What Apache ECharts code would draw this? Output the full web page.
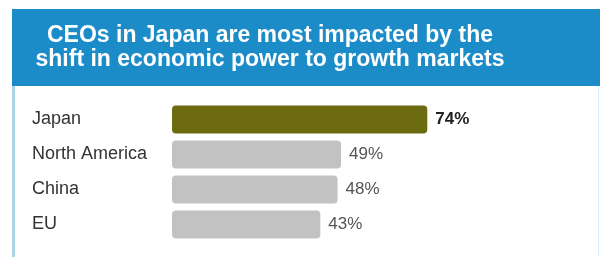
<!DOCTYPE html>
<html lang="en">
<head>
    <meta charset="UTF-8">
    <title>CEOs in Japan</title>
    <script type="text/javascript" src="https://cdn.jsdelivr.net/npm/echarts@6/dist/echarts.min.js"></script>
    <style>
        html, body { margin: 0; padding: 0; background: #fff; }
    </style>
</head>
<body>
<div id="main" style="width: 600px;height:257px;"></div>

<script>
    // data
    var regions = ['Japan', 'North America', 'China', 'EU'];
    var shares = [74, 49, 48, 43];
    var barColors = ['#6c6b10', '#c2c2c2', '#c2c2c2', '#c2c2c2'];

    var myChart = echarts.init(document.getElementById('main'));

    myChart.setOption({
        backgroundColor: '#ffffff',
        animation: false,
        title: {
            text: 'CEOs in Japan are most impacted by the\nshift in economic power to growth markets',
            left: 265,
            top: 19,
            textAlign: 'center',
            textStyle: {
                color: '#ffffff',
                fontFamily: 'Liberation Sans, Arial, sans-serif',
                fontWeight: 'bold',
                fontSize: 23,
                lineHeight: 24
            }
        },
        graphic: [
            // blue header band
            { type: 'rect', z: -1, shape: { x: 12, y: 9, width: 588, height: 77 }, style: { fill: '#1b8cc7' } },
            // frame lines
            { type: 'rect', z: -1, shape: { x: 12, y: 86, width: 3, height: 171 }, style: { fill: '#a9d4e8' } },
            { type: 'rect', z: -1, shape: { x: 598, y: 86, width: 1, height: 171 }, style: { fill: '#d8edf6' } }
        ],
        grid: {
            left: 172,
            right: 83,
            top: 102,
            bottom: 15
        },
        xAxis: {
            type: 'value',
            min: 0,
            max: 100,
            show: false
        },
        yAxis: {
            type: 'category',
            data: regions,
            inverse: true,
            axisLine: { show: false },
            axisTick: { show: false },
            axisLabel: {
                align: 'left',
                margin: 140,
                color: '#333333',
                fontFamily: 'Liberation Sans, Arial, sans-serif',
                fontSize: 18
            }
        },
        series: [{
            type: 'bar',
            barWidth: 28,
            data: shares.map(function (v, i) {
                return {
                    value: v,
                    itemStyle: { color: barColors[i], borderRadius: 4 },
                    label: i === 0
                        ? { fontWeight: 'bold', color: '#222222' }
                        : { color: '#555555' }
                };
            }),
            label: {
                show: true,
                position: 'right',
                distance: 8,
                formatter: '{c}%',
                fontFamily: 'Liberation Sans, Arial, sans-serif',
                fontSize: 17
            }
        }]
    });
</script>

</body>
</html>
